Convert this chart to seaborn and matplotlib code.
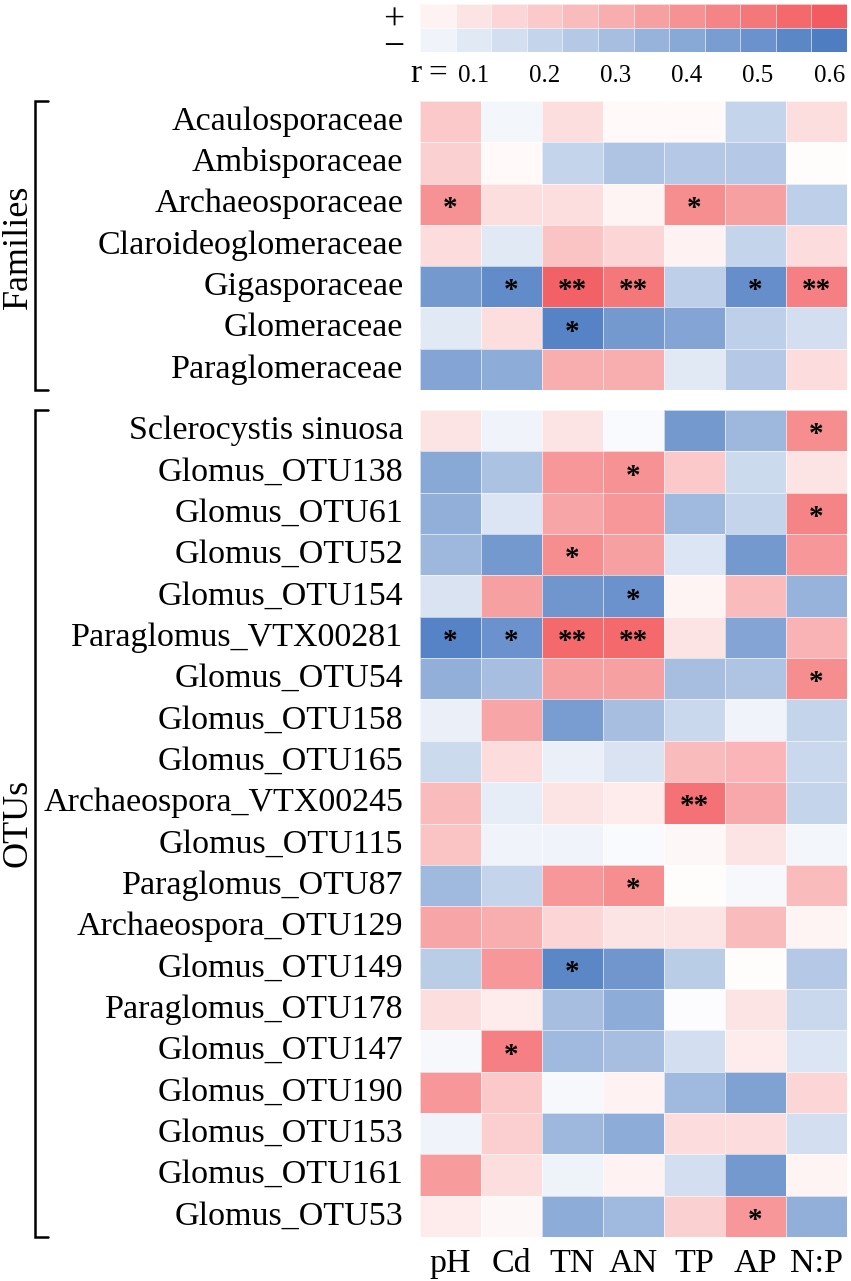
import numpy as np
import pandas as pd
import seaborn as sns
import matplotlib.pyplot as plt
from matplotlib.colors import LinearSegmentedColormap

# ---------------- data ----------------
params = ["pH", "Cd", "TN", "AN", "TP", "AP", "N:P"]

families = ["Acaulosporaceae", "Ambisporaceae", "Archaeosporaceae",
            "Claroideoglomeraceae", "Gigasporaceae", "Glomeraceae",
            "Paraglomeraceae"]

otus = ["Sclerocystis sinuosa", "Glomus_OTU138", "Glomus_OTU61", "Glomus_OTU52",
        "Glomus_OTU154", "Paraglomus_VTX00281", "Glomus_OTU54", "Glomus_OTU158",
        "Glomus_OTU165", "Archaeospora_VTX00245", "Glomus_OTU115",
        "Paraglomus_OTU87", "Archaeospora_OTU129", "Glomus_OTU149",
        "Paraglomus_OTU178", "Glomus_OTU147", "Glomus_OTU190", "Glomus_OTU153",
        "Glomus_OTU161", "Glomus_OTU53"]

family_r = [
    [0.20, -0.04, 0.12, 0.02, 0.02, -0.20, 0.12],
    [0.17, 0.02, -0.20, -0.27, -0.25, -0.25, 0.01],
    [0.40, 0.12, 0.12, 0.04, 0.42, 0.35, -0.22],
    [0.13, -0.10, 0.22, 0.15, 0.05, -0.20, 0.13],
    [-0.47, -0.53, 0.58, 0.50, -0.22, -0.52, 0.47],
    [-0.10, 0.12, -0.57, -0.47, -0.42, -0.22, -0.15],
    [-0.42, -0.38, 0.30, 0.30, -0.10, -0.25, 0.13],
]
family_sig = [
    ["", "", "", "", "", "", ""],
    ["", "", "", "", "", "", ""],
    ["*", "", "", "", "*", "", ""],
    ["", "", "", "", "", "", ""],
    ["", "*", "**", "**", "", "*", "**"],
    ["", "", "*", "", "", "", ""],
    ["", "", "", "", "", "", ""],
]

otu_r = [
    [0.10, -0.05, 0.10, -0.02, -0.47, -0.33, 0.42],
    [-0.40, -0.28, 0.38, 0.40, 0.20, -0.17, 0.10],
    [-0.37, -0.12, 0.33, 0.38, -0.32, -0.20, 0.45],
    [-0.33, -0.47, 0.42, 0.35, -0.12, -0.47, 0.38],
    [-0.13, 0.35, -0.48, -0.50, 0.04, 0.25, -0.35],
    [-0.57, -0.50, 0.55, 0.55, 0.10, -0.42, 0.28],
    [-0.37, -0.30, 0.35, 0.35, -0.30, -0.27, 0.42],
    [-0.07, 0.33, -0.45, -0.30, -0.18, -0.05, -0.20],
    [-0.17, 0.13, -0.07, -0.13, 0.25, 0.27, -0.18],
    [0.25, -0.08, 0.10, 0.07, 0.52, 0.32, -0.20],
    [0.22, -0.05, -0.05, -0.02, 0.03, 0.10, -0.04],
    [-0.32, -0.20, 0.38, 0.42, 0.01, -0.03, 0.25],
    [0.33, 0.30, 0.15, 0.10, 0.10, 0.25, 0.04],
    [-0.23, 0.38, -0.55, -0.48, -0.23, 0.01, -0.25],
    [0.12, 0.07, -0.30, -0.38, -0.01, 0.10, -0.18],
    [-0.03, 0.47, -0.32, -0.30, -0.15, 0.07, -0.12],
    [0.38, 0.20, -0.03, 0.05, -0.32, -0.43, 0.15],
    [-0.05, 0.18, -0.33, -0.38, 0.13, 0.13, -0.15],
    [0.37, 0.12, -0.06, 0.05, -0.15, -0.47, 0.04],
    [0.07, 0.03, -0.38, -0.32, 0.17, 0.38, -0.37],
]
otu_sig = [
    ["", "", "", "", "", "", "*"],
    ["", "", "", "*", "", "", ""],
    ["", "", "", "", "", "", "*"],
    ["", "", "*", "", "", "", ""],
    ["", "", "", "*", "", "", ""],
    ["*", "*", "**", "**", "", "", ""],
    ["", "", "", "", "", "", "*"],
    ["", "", "", "", "", "", ""],
    ["", "", "", "", "", "", ""],
    ["", "", "", "", "**", "", ""],
    ["", "", "", "", "", "", ""],
    ["", "", "", "*", "", "", ""],
    ["", "", "", "", "", "", ""],
    ["", "", "*", "", "", "", ""],
    ["", "", "", "", "", "", ""],
    ["", "*", "", "", "", "", ""],
    ["", "", "", "", "", "", ""],
    ["", "", "", "", "", "", ""],
    ["", "", "", "", "", "", ""],
    ["", "", "", "", "", "*", ""],
]

legend_levels = [0.05, 0.10, 0.15, 0.20, 0.25, 0.30, 0.35, 0.40, 0.45, 0.50, 0.55, 0.60]
legend_ticks = ["0.1", "0.2", "0.3", "0.4", "0.5", "0.6"]

# ---------------- style ----------------
sns.set_theme(style="white")
plt.rcParams['font.family'] = ['Liberation Serif', 'DejaVu Serif']
plt.rcParams['text.color'] = 'black'
plt.rcParams['xtick.color'] = 'black'
plt.rcParams['ytick.color'] = 'black'
plt.rcParams['axes.labelcolor'] = 'black'

cmap = LinearSegmentedColormap.from_list(
    "rb", [(0.0, "#4E7DC2"), (0.5, "#FFFFFF"), (1.0, "#F25C60")])
VMIN, VMAX = -0.6, 0.6

W, H = 851, 1281
fig = plt.figure(figsize=(W / 100, H / 100), dpi=100)


def ax_px(l, t, r, b):
    return fig.add_axes([l / W, 1 - b / H, (r - l) / W, (b - t) / H])


LABEL_FS = 24.5
STAR_FS = 21


def draw_block(ax, values, sig, rows, show_x):
    df = pd.DataFrame(values, index=rows, columns=params)
    sns.heatmap(df, ax=ax, cmap=cmap, vmin=VMIN, vmax=VMAX, cbar=False,
                linewidths=0.6, linecolor=(1, 1, 1, 0.6),
                xticklabels=show_x, yticklabels=True)
    ax.set_ylabel("")
    ax.set_xlabel("")
    ax.tick_params(axis='y', length=0, pad=12, labelsize=LABEL_FS)
    ax.tick_params(axis='x', length=0, pad=8, labelsize=LABEL_FS)
    for lab in ax.get_yticklabels():
        lab.set_rotation(0)
    for lab in ax.get_xticklabels():
        lab.set_rotation(0)
    for i, row in enumerate(sig):
        for j, s in enumerate(row):
            if s:
                ax.text(j + 0.5, i + 0.5 + 0.28, s, ha='center', va='baseline',
                        fontsize=STAR_FS, fontweight='bold', color='black')


def bracket(ax, x_px, tick_px, heat_left=420, heat_w=427):
    x0 = (x_px - heat_left) / heat_w
    x1 = (tick_px - heat_left) / heat_w
    ax.plot([x1, x0, x0, x1], [1, 1, 0, 0], transform=ax.transAxes,
            color='black', lw=1.8, clip_on=False, solid_joinstyle='miter')


ax_f = ax_px(420, 101, 847, 390)
draw_block(ax_f, family_r, family_sig, families, False)
ax_o = ax_px(420, 410, 847, 1237)
draw_block(ax_o, otu_r, otu_sig, otus, True)

bracket(ax_f, 35, 48)
bracket(ax_o, 35, 48)

fig.text(18 / W, 1 - 247 / H, "Families", rotation=90, ha='center', va='center',
         fontsize=26)
fig.text(18 / W, 1 - 823 / H, "OTUs", rotation=90, ha='center', va='center',
         fontsize=26)

# ---------------- legend ----------------
ax_l = ax_px(420, 4, 847, 52)
leg = np.array([legend_levels, [-v for v in legend_levels]])
sns.heatmap(leg, ax=ax_l, cmap=cmap, vmin=VMIN, vmax=VMAX, cbar=False,
            linewidths=0.6, linecolor=(1, 1, 1, 0.6),
            xticklabels=False, yticklabels=False)
ax_l.text(-0.73, 1.25, "+\n\u2212", ha='center', va='center', fontsize=27,
          linespacing=0.70)
for t in legend_ticks:
    idx = legend_levels.index(float(t))
    ax_l.text(idx + 0.5, 3.25, t, ha='center', va='baseline', fontsize=18)
ax_l.text(-0.11, 3.25, "r", ha='center', va='baseline', fontsize=24)
ax_l.text(0.5, 3.25, "=", ha='center', va='baseline', fontsize=24)

fig.savefig("out.png", dpi=100, facecolor='white')
